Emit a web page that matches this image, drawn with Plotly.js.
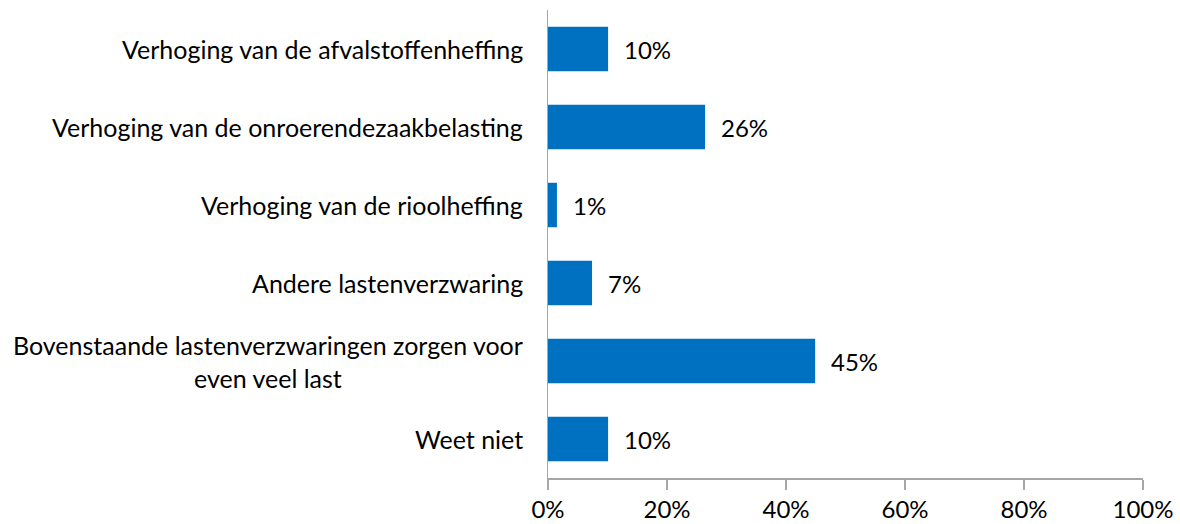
<!DOCTYPE html>
<html>
<head>
<meta charset="utf-8">
<script src="https://cdn.plot.ly/plotly-3.0.1.min.js"></script>
<style>html,body{margin:0;padding:0;background:#fff;}#chart{width:1180px;height:524px;}</style>
</head>
<body>
<div id="chart"></div>
<script>
const categories = [
  "Verhoging van de afvalstoffenheffing",
  "Verhoging van de onroerendezaakbelasting",
  "Verhoging van de rioolheffing",
  "Andere lastenverzwaring",
  "Bovenstaande lastenverzwaringen zorgen voor<br>even veel last",
  "Weet niet"
];
const values = [10.1, 26.4, 1.5, 7.4, 44.9, 10.1];
const valueLabels = ["10%", "26%", "1%", "7%", "45%", "10%"];
const xTickVals = [0, 20, 40, 60, 80, 100];
const xTickText = ["0%", "20%", "40%", "60%", "80%", "100%"];

const FONT = "Lato, 'Open Sans', sans-serif";
const FS = 24;
const FS_CAT = 25;
const ids = categories.map((c, i) => "c" + i);

const trace = {
  type: "bar",
  orientation: "h",
  x: values,
  y: ids,
  marker: {color: "#0070c0"},
  hoverinfo: "skip"
};

const annotations = [];
categories.forEach((c, i) => {
  annotations.push({
    x: 0, xref: "paper", y: ids[i], yref: "y",
    xanchor: "right", yanchor: "middle",
    xshift: -23, align: "center",
    text: c, showarrow: false,
    font: {family: FONT, size: FS_CAT, color: "#000"}
  });
  annotations.push({
    x: values[i], xref: "x", y: ids[i], yref: "y",
    xanchor: "left", yanchor: "middle",
    xshift: 14, text: valueLabels[i], showarrow: false,
    font: {family: FONT, size: FS, color: "#000"}
  });
});

const layout = {
  width: 1180, height: 524,
  margin: {l: 548, r: 37, t: 10, b: 46},
  paper_bgcolor: "#fff", plot_bgcolor: "#fff",
  showlegend: false,
  bargap: 0.43,
  font: {family: FONT, size: FS, color: "#000"},
  xaxis: {
    range: [0, 100], tickvals: xTickVals, ticktext: xTickText,
    showgrid: false, zeroline: false,
    showline: true, linecolor: "#a6a6a6", linewidth: 1.5,
    ticks: "outside", ticklen: 10, tickcolor: "#a6a6a6", tickwidth: 1.5,
    tickfont: {family: FONT, size: FS, color: "#000"},
    fixedrange: true
  },
  yaxis: {
    type: "category", autorange: "reversed",
    showticklabels: false, ticks: "",
    showgrid: false, zeroline: false,
    showline: true, linecolor: "#a6a6a6", linewidth: 1.5,
    fixedrange: true
  },
  annotations: annotations
};

Plotly.newPlot("chart", [trace], layout, {displayModeBar: false, staticPlot: true});
</script>
</body>
</html>
